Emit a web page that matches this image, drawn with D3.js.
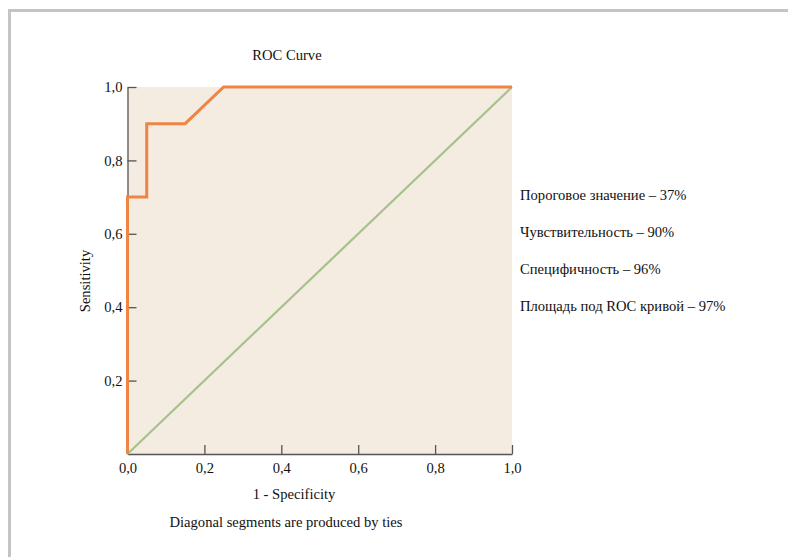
<!DOCTYPE html>
<html><head><meta charset="utf-8">
<script src="https://cdn.jsdelivr.net/npm/d3@7"></script>
<style>
html,body{margin:0;padding:0;background:#fff;}
svg{display:block;font-family:"Liberation Serif","Times New Roman",serif;}
</style></head>
<body>
<svg id="chart" width="788" height="557"></svg>
<script>
const title = "ROC Curve";
const xLabel = "1 - Specificity";
const yLabel = "Sensitivity";
const footnote = "Diagonal segments are produced by ties";
const rocFPR = [0, 0, 0.05, 0.05, 0.15, 0.25, 1];
const rocTPR = [0, 0.7, 0.7, 0.9, 0.9, 1.0, 1];
const refFPR = [0, 1];
const refTPR = [0, 1];
const xTicks = [0, 0.2, 0.4, 0.6, 0.8, 1.0];
const yTicks = [0.2, 0.4, 0.6, 0.8, 1.0];
const notes = ["Пороговое значение – 37%", "Чувствительность – 90%", "Специфичность – 96%", "Площадь под ROC кривой – 97%"];

const FS = 14.6;
const svg = d3.select("#chart");
// frame
svg.append("line").attr("x1",8).attr("x2",788).attr("y1",10.5).attr("y2",10.5).attr("stroke","#c4c4c4").attr("stroke-width",3);
svg.append("line").attr("x1",9.5).attr("x2",9.5).attr("y1",9).attr("y2",557).attr("stroke","#c4c4c4").attr("stroke-width",3);

const x = d3.scaleLinear().domain([0,1]).range([127.5,512]);
const y = d3.scaleLinear().domain([0,1]).range([454,87]);
const fmt = d => d3.format(".1f")(d).replace(".", ",");

svg.append("rect").attr("x",x(0)).attr("y",y(1)).attr("width",x(1)-x(0)).attr("height",y(0)-y(1)).attr("fill","#f4ebe1");

const xAxis = svg.append("g").attr("transform",`translate(0,${y(0)})`)
  .call(d3.axisBottom(x).tickValues(xTicks).tickFormat(fmt).tickSizeInner(-9).tickSizeOuter(0).tickPadding(9));
const yAxis = svg.append("g").attr("transform",`translate(${x(0)},0)`)
  .call(d3.axisLeft(y).tickValues(yTicks).tickFormat(fmt).tickSizeInner(-9).tickSizeOuter(0).tickPadding(6));
[xAxis,yAxis].forEach(a=>{
  a.select(".domain").attr("stroke","#555").attr("stroke-width",1.3);
  a.selectAll(".tick line").attr("stroke","#555").attr("stroke-width",1.3);
  a.selectAll("text").attr("font-family","Liberation Serif").attr("font-size",FS).attr("fill","#111");
});
yAxis.selectAll(".tick text").attr("x",-5);

const line = d3.line().x(d=>x(d[0])).y(d=>y(d[1]));
svg.append("path").datum(refFPR.map((v,i)=>[v,refTPR[i]])).attr("d",line)
  .attr("fill","none").attr("stroke","#a6c28c").attr("stroke-width",2.2);
svg.append("path").datum(rocFPR.map((v,i)=>[v,rocTPR[i]])).attr("d",line)
  .attr("fill","none").attr("stroke","#ee8545").attr("stroke-width",3).attr("stroke-linejoin","miter");

svg.append("text").attr("x",287).attr("y",60).attr("text-anchor","middle").attr("font-size",FS).attr("fill","#111").text(title);
svg.append("text").attr("x",294).attr("y",499).attr("text-anchor","middle").attr("font-size",FS).attr("fill","#111").text(xLabel);
svg.append("text").attr("x",286).attr("y",527).attr("text-anchor","middle").attr("font-size",FS).attr("fill","#111").text(footnote);
svg.append("text").attr("transform","translate(90,281) rotate(-90)").attr("text-anchor","middle").attr("font-size",FS).attr("fill","#111").text(yLabel);

svg.append("g").selectAll("text").data(notes).join("text")
  .attr("x",520).attr("y",(d,i)=>199.5+i*37.3).attr("font-size",FS).attr("fill","#111").text(d=>d);
</script>
</body></html>
